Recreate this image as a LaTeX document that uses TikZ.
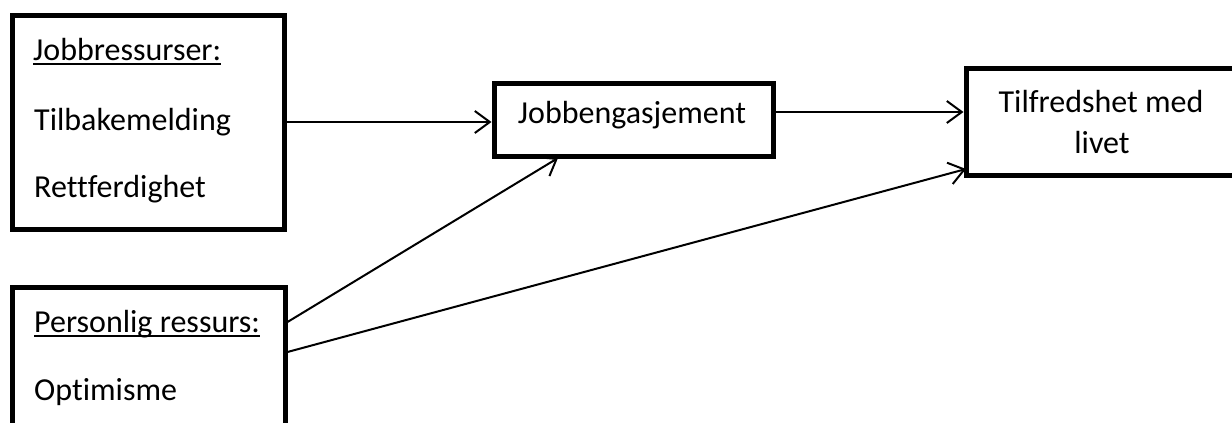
\documentclass[tikz,border=0pt]{standalone}
\usepackage{fontspec}
\setmainfont[Ligatures=NoCommon]{Carlito}
\usetikzlibrary{arrows.meta}
\begin{document}
\begin{tikzpicture}[x=1pt,y=-1pt,
  box/.style={draw=black,line width=5pt,rectangle,inner sep=0pt,fill=white},
  txt/.style={inner sep=0pt,font=\fontsize{32}{41}\selectfont},
  link/.style={line width=2pt,-{Straight Barb[length=15pt,width=22pt,line width=2pt]}},
  uline/.style={line width=1.8pt}]
\useasboundingbox (0,0) rectangle (1232,423);
\fill[white] (0,0) rectangle (1232,423);
\clip (0,0) rectangle (1232,423);
% boxes
\node[box,minimum width=272pt,minimum height=214pt] (A) at (148,122) {};
\node[box,minimum width=273pt,minimum height=180pt] (B) at (148.5,377) {};
\node[box,minimum width=279pt,minimum height=73pt] (C) at (633.5,119.5) {};
\node[box,minimum width=300pt,minimum height=107pt] (D) at (1116,121.5) {};
% texts
\node[txt,anchor=base west] (a1) at (33,60) {Jobbressurser:};
\node[txt,anchor=base west] (a2) at (34,130) {Tilbakemelding};
\node[txt,anchor=base west] (a3) at (34,197) {Rettferdighet};
\node[txt,anchor=base west] (b1) at (34,332) {Personlig ressurs:};
\node[txt,anchor=base west] (b2) at (34,400) {Optimisme};
\node[txt,anchor=base] (c1) at (632,123) {Jobbengasjement};
\node[txt,anchor=base] (d1) at (1101,112) {Tilfredshet med};
\node[txt,anchor=base] (d2) at (1102,153) {livet};
% underlines
\draw[uline] ([yshift=-4pt]a1.base west) -- ([yshift=-4pt]a1.base east);
\draw[uline] ([yshift=-4pt]b1.base west) -- ([yshift=-4pt]b1.base east);
% connectors
\draw[link] (A.east |- 0,122) -- (C.west |- 0,122);
\draw[link] (C.east |- 0,112) -- (D.west |- 0,112);
\coordinate (b2c) at (558,158);
\coordinate (b2d) at (966,169);
\draw[link] (B.north east |- 0,322) -- (b2c);
\draw[link] (B.north east |- 0,352) -- (b2d);
\end{tikzpicture}
\end{document}
